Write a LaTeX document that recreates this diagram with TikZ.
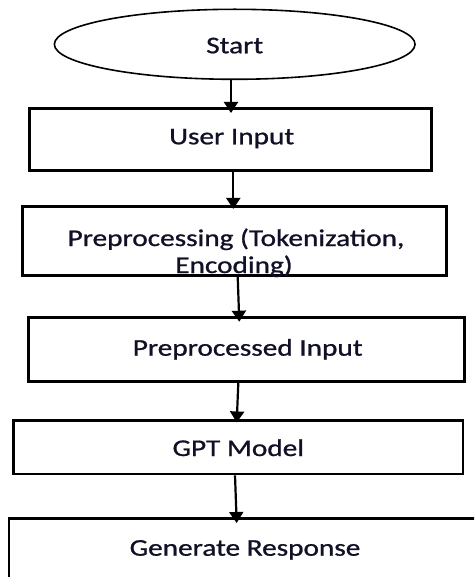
\documentclass[tikz,border=0pt]{standalone}
\usepackage{fontspec}
\newfontfamily\lblfont[FakeBold=0.8]{Carlito}
\usetikzlibrary{shapes.geometric,arrows.meta}
\definecolor{txt}{HTML}{101026}
\tikzset{
  box/.style={draw=black, line width=2.6pt, rectangle, inner sep=0pt},
  oval/.style={draw=black, line width=1.6pt, ellipse, inner sep=0pt},
  lbl/.style={anchor=base, inner sep=0pt, text=txt, font=\lblfont\fontsize{24}{28}\selectfont},
  arr/.style={draw=black, line width=2.2pt, -{Triangle[width=14pt,length=11pt]}}
}
\newcommand{\sx}[1]{\scalebox{1.22}[1]{#1}}
\begin{document}
\begin{tikzpicture}[x=1pt,y=-1pt]
\clip (0,0) rectangle (474,577);
\fill[white] (0,0) rectangle (474,577);
% shapes
\node[oval, minimum width=360.7pt, minimum height=70pt] (start) at (234.7,44.3) {};
\node[box, minimum width=401.8pt, minimum height=62.4pt] (ui) at (230.4,139.5) {};
\node[box, minimum width=423.8pt, minimum height=69pt] (pre) at (234.4,241.2) {};
\node[box, minimum width=436.2pt, minimum height=64.4pt] (ppi) at (246.6,349.5) {};
\node[box, minimum width=449.7pt, minimum height=53.3pt] (gpt) at (238.2,447.4) {};
\node[box, minimum width=472pt, minimum height=70pt] (gen) at (245,553.3) {};
% texts
\node[lbl] (tstart) at (234.7,53.3) {\sx{Start}};
\node[lbl] (tui) at (231.7,144.3) {\sx{User Input}};
\node[lbl] (tpre1) at (236,246) {\sx{Preprocessing (Tokenization,}};
\node[lbl] (tpre2) at (234,273) {\sx{Encoding)}};
\node[lbl] (tppi) at (247.7,355.7) {\sx{Preprocessed Input}};
\node[lbl] (tgpt) at (238.3,456) {\sx{GPT Model}};
\node[lbl] (tgen) at (245,555.7) {\sx{Generate Response}};
% connectors
\draw[arr] ([xshift=-3.7pt]start.south) -- ([xshift=0.6pt,yshift=-6pt]ui.north);
\draw[arr] ([xshift=2.9pt]ui.south) -- ([xshift=-1.1pt,yshift=-3.5pt]pre.north);
\draw[arr] ([xshift=3.3pt]pre.south) -- ([xshift=-7.3pt,yshift=-5.7pt]ppi.north);
\draw[arr] ([xshift=-8.3pt]ppi.south) -- ([xshift=-1.5pt,yshift=-3pt]gpt.north);
\draw[arr] ([xshift=-3.2pt]gpt.south) -- ([xshift=-8.3pt,yshift=-6pt]gen.north);
\end{tikzpicture}
\end{document}
